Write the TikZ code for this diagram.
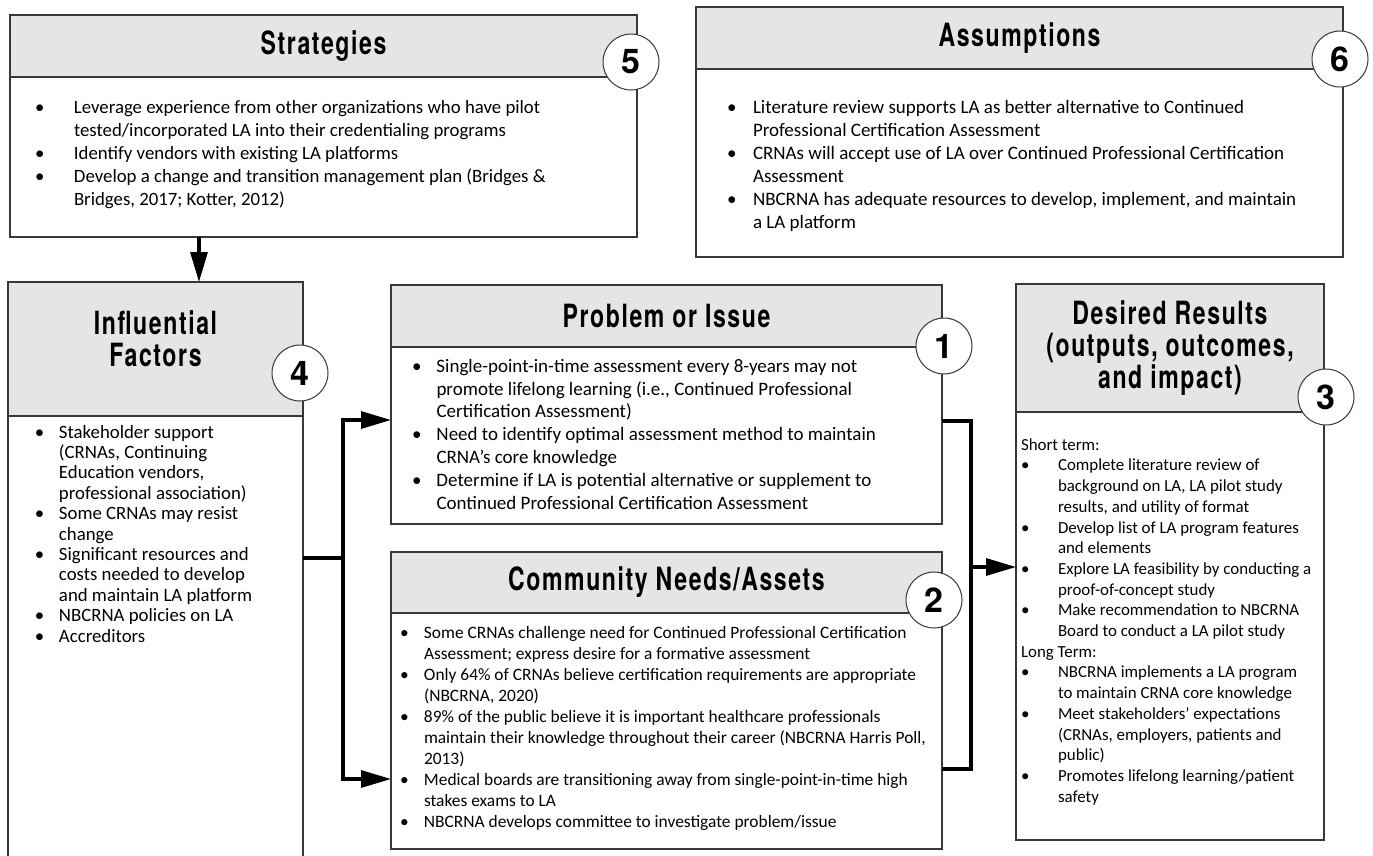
\documentclass[tikz,border=0pt]{standalone}
\usepackage{fontspec}
\setmainfont{Carlito}
\newfontfamily\headfont[FakeStretch=0.72,LetterSpace=5]{TeX Gyre Heros}
\newfontfamily\numfont{TeX Gyre Heros}
\usetikzlibrary{arrows.meta,positioning,calc}

\definecolor{headgray}{gray}{0.9}
\definecolor{edge}{gray}{0.22}

% bullet lists inside the boxes
\newlength\bx
\newlength\bh
\newcommand{\blt}{\par\noindent\hangindent=\dimexpr\bx+\bh\relax\hangafter=1\hspace*{\bx}\makebox[\bh][l]{\textbullet}}
\newcommand{\term}[1]{\par\noindent\hspace*{\bx}#1}
\newcommand{\bodyset}[4]{\fontsize{#1}{#2}\selectfont\setlength\bx{#3pt}\setlength\bh{#4pt}}
% fixed size text block: height, width, top gap
\newenvironment{boxtext}[3]{\begin{minipage}[t][#1][t]{#2}\raggedright\vspace*{#3}}{\par\end{minipage}}

\begin{document}
\begin{tikzpicture}[x=1pt, y=-1pt,
    head/.style={draw=edge, fill=headgray, line width=1.3pt, outer sep=0pt, inner sep=0pt,
      align=center, font=\headfont\bfseries\fontsize{32}{32}\selectfont},
    body/.style={draw=edge, fill=white, line width=1.3pt, outer sep=0pt, inner sep=0pt},
    num/.style={circle, draw=edge, fill=white, line width=1pt, minimum size=56pt, inner sep=0pt,
      font=\numfont\bfseries\fontsize{34}{34}\selectfont},
    wire/.style={line width=3.2pt},
    link/.style={wire, -{Triangle[length=30pt,width=17pt]}}]
  \useasboundingbox (0,0) rectangle (1373,855);

  % Strategies
  \node[head, anchor=north west, minimum width=627pt, minimum height=62pt] (strat-h) at (10,15) {Strategies};
  \node[body, below=0pt of strat-h, font=\bodyset{18.8}{23}{25}{39}] (strat-b) {%
    \begin{boxtext}{160pt}{627pt}{23pt}
    \blt Leverage experience from other organizations who have pilot\newline tested/incorporated LA into their credentialing programs
    \blt Identify vendors with existing LA platforms
    \blt Develop a change and transition management plan (Bridges \&\newline Bridges, 2017; Kotter, 2012)
    \end{boxtext}};

  % Assumptions
  \node[head, anchor=north west, minimum width=647pt, minimum height=62pt] (assum-h) at (696,7) {Assumptions};
  \node[body, below=0pt of assum-h, font=\bodyset{19}{23}{31}{26}] (assum-b) {%
    \begin{boxtext}{188pt}{647pt}{31pt}
    \blt Literature review supports LA as better alternative to Continued\newline Professional Certification Assessment
    \blt CRNAs will accept use of LA over Continued Professional Certification\newline Assessment
    \blt NBCRNA has adequate resources to develop, implement, and maintain\newline a LA platform
    \end{boxtext}};

  % Influential factors (runs off the bottom)
  \node[head, anchor=north west, minimum width=295pt, minimum height=134pt] (infl-h) at (8,282) {Influential\\Factors\\[-12pt]\mbox{}};
  \node[body, below=0pt of infl-h, font=\bodyset{18.8}{20.4}{27}{24}] (infl-b) {%
    \begin{boxtext}{446pt}{295pt}{9pt}
    \blt Stakeholder support\newline (CRNAs, Continuing\newline Education vendors,\newline professional association)
    \blt Some CRNAs may resist\newline change
    \blt Significant resources and\newline costs needed to develop\newline and maintain LA platform
    \blt NBCRNA policies on LA
    \blt Accreditors
    \end{boxtext}};

  % Problem or issue
  \node[head, anchor=north west, minimum width=551pt, minimum height=62pt] (prob-h) at (391,285) {Problem or Issue};
  \node[body, below=0pt of prob-h, font=\bodyset{19}{22.8}{21}{24.5}] (prob-b) {%
    \begin{boxtext}{177pt}{551pt}{12pt}
    \blt Single-point-in-time assessment every 8-years may not\newline promote lifelong learning (i.e., Continued Professional\newline Certification Assessment)
    \blt Need to identify optimal assessment method to maintain\newline CRNA’s core knowledge
    \blt Determine if LA is potential alternative or supplement to\newline Continued Professional Certification Assessment
    \end{boxtext}};

  % Community needs
  \node[head, anchor=north west, minimum width=551pt, minimum height=61pt] (comm-h) at (391,552) {Community Needs/Assets};
  \node[body, below=0pt of comm-h, font=\bodyset{17.4}{21}{9}{24}] (comm-b) {%
    \begin{boxtext}{236pt}{551pt}{13.5pt}
    \blt Some CRNAs challenge need for Continued Professional Certification\newline Assessment; express desire for a formative assessment
    \blt Only 64\% of CRNAs believe certification requirements are appropriate\newline (NBCRNA, 2020)
    \blt 89\% of the public believe it is important healthcare professionals\newline maintain their knowledge throughout their career (NBCRNA Harris Poll,\newline 2013)
    \blt Medical boards are transitioning away from single-point-in-time high\newline stakes exams to LA
    \blt NBCRNA develops committee to investigate problem/issue
    \end{boxtext}};

  % Desired results
  \node[head, anchor=north west, minimum width=308pt, minimum height=128pt] (desr-h) at (1016,284) {Desired Results\\(outputs, outcomes,\\and impact)};
  \node[body, below=0pt of desr-h, font=\bodyset{16.9}{20.7}{5}{37}] (desr-b) {%
    \begin{boxtext}{428pt}{308pt}{26.5pt}
    \term{Short term:}
    \blt Complete literature review of\newline background on LA, LA pilot study\newline results, and utility of format
    \blt Develop list of LA program features\newline and elements
    \blt Explore LA feasibility by conducting a\newline proof-of-concept study
    \blt Make recommendation to NBCRNA\newline Board to conduct a LA pilot study
    \term{Long Term:}
    \blt NBCRNA implements a LA program\newline to maintain CRNA core knowledge
    \blt Meet stakeholders’ expectations\newline (CRNAs, employers, patients and\newline public)
    \blt Promotes lifelong learning/patient\newline safety
    \end{boxtext}};

  % Step numbers
  \node[num] (n1) at (944,346) {1};
  \node[num] (n2) at (934,600) {2};
  \node[num] (n3) at (1326,397) {3};
  \node[num] (n4) at (300,373) {4};
  \node[num] (n5) at (631,62) {5};
  \node[num] (n6) at (1340,59) {6};

  % Connectors
  \draw[link] ([xshift=43.5pt]infl-h.north |- strat-b.south) -- ([xshift=43.5pt]infl-h.north);

  \coordinate (split) at (343,558);
  \draw[wire] (split -| infl-b.east) -- (split);
  \draw[link] (split) |- ([yshift=15.5pt]prob-b.west);
  \draw[link] (split) |- ([yshift=-48pt]comm-b.west);

  \coordinate (merge) at (971,567);
  \draw[wire] ([yshift=14.5pt]prob-b.east) -| (merge) |- ([yshift=-38pt]comm-b.east);
  \draw[link] (merge) -- (merge -| desr-b.west);

\end{tikzpicture}
\end{document}
